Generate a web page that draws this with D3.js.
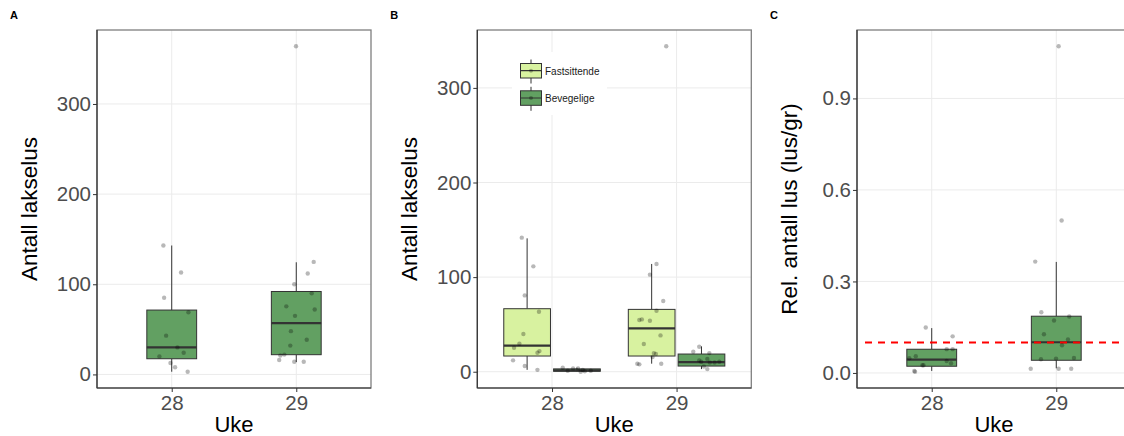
<!DOCTYPE html>
<html>
<head>
<meta charset="utf-8">
<script src="https://cdn.jsdelivr.net/npm/d3@7"></script>
<style>
  body { margin: 0; background: #fff; }
  svg { display: block; font-family: "Liberation Sans", Arial, sans-serif; }
</style>
</head>
<body>
<script>
const width = 1124, height = 436;
const weeks = ["28", "29"];

// Panel A: total sea lice per fish
const aBoxes = [
  {week: "28", lo: 3, q1: 17.4, med: 30, q3: 71.4, hi: 143},
  {week: "29", lo: 13.7, q1: 21.9, med: 57, q3: 92, hi: 124.4}
];
const aPoints = [
  {week: "28", v: 143, j: -0.067}, {week: "28", v: 113, j: 0.075}, {week: "28", v: 85, j: -0.061},
  {week: "28", v: 69, j: 0.134}, {week: "28", v: 43, j: -0.045}, {week: "28", v: 30, j: 0.046},
  {week: "28", v: 24, j: 0.096}, {week: "28", v: 20, j: -0.099}, {week: "28", v: 12.6, j: -0.01},
  {week: "28", v: 8, j: 0.027}, {week: "28", v: 3, j: 0.128},
  {week: "29", v: 364, j: -0.002}, {week: "29", v: 124.8, j: 0.14}, {week: "29", v: 112, j: 0.092},
  {week: "29", v: 100, j: -0.016}, {week: "29", v: 90, j: 0.124}, {week: "29", v: 75.5, j: -0.08},
  {week: "29", v: 72, j: 0.148}, {week: "29", v: 65, j: -0.01}, {week: "29", v: 48, j: -0.043},
  {week: "29", v: 38.5, j: 0.084}, {week: "29", v: 32, j: -0.048}, {week: "29", v: 22, j: -0.096},
  {week: "29", v: 21, j: -0.128}, {week: "29", v: 16, j: -0.137}, {week: "29", v: 14, j: -0.016},
  {week: "29", v: 14, j: 0.06}
];

// Panel B: split by stage
const stages = ["Fastsittende", "Bevegelige"];
const bBoxes = [
  {week: "28", stage: "Fastsittende", lo: 2, q1: 16.6, med: 27.5, q3: 66.6, hi: 141},
  {week: "28", stage: "Bevegelige", lo: 0, q1: 0.5, med: 1.5, q3: 3, hi: 4.2},
  {week: "29", stage: "Fastsittende", lo: 8.5, q1: 16.6, med: 45.8, q3: 65.9, hi: 113.9},
  {week: "29", stage: "Bevegelige", lo: 2.8, q1: 6, med: 10.2, q3: 18.7, hi: 26.8}
];
const bPoints = [
  {week: "28", stage: "Fastsittende", v: 141.7, j: -0.043}, {week: "28", stage: "Fastsittende", v: 111.4, j: 0.05},
  {week: "28", stage: "Fastsittende", v: 80.7, j: -0.019}, {week: "28", stage: "Fastsittende", v: 63.4, j: 0.095},
  {week: "28", stage: "Fastsittende", v: 39.8, j: -0.03}, {week: "28", stage: "Fastsittende", v: 29.6, j: -0.062},
  {week: "28", stage: "Fastsittende", v: 25.4, j: -0.105}, {week: "28", stage: "Fastsittende", v: 21.8, j: 0.099},
  {week: "28", stage: "Fastsittende", v: 20, j: 0.083}, {week: "28", stage: "Fastsittende", v: 12, j: -0.113},
  {week: "28", stage: "Fastsittende", v: 6, j: -0.019}, {week: "28", stage: "Fastsittende", v: 2, j: 0.083},
  {week: "28", stage: "Bevegelige", v: 4.2, j: -0.114}, {week: "28", stage: "Bevegelige", v: 3.5, j: -0.031},
  {week: "28", stage: "Bevegelige", v: 3.5, j: 0.009}, {week: "28", stage: "Bevegelige", v: 1.8, j: 0.047},
  {week: "28", stage: "Bevegelige", v: 0.5, j: 0.063}, {week: "28", stage: "Bevegelige", v: 1, j: 0.111},
  {week: "28", stage: "Bevegelige", v: 1, j: -0.074}, {week: "28", stage: "Bevegelige", v: 0, j: 0.03},
  {week: "29", stage: "Fastsittende", v: 344, j: 0.117}, {week: "29", stage: "Fastsittende", v: 113.9, j: 0.039},
  {week: "29", stage: "Fastsittende", v: 102.6, j: -0.014}, {week: "29", stage: "Fastsittende", v: 74.8, j: 0.093},
  {week: "29", stage: "Fastsittende", v: 64.5, j: 0.039}, {week: "29", stage: "Fastsittende", v: 54.6, j: -0.099},
  {week: "29", stage: "Fastsittende", v: 55.3, j: -0.079}, {week: "29", stage: "Fastsittende", v: 53.9, j: -0.014},
  {week: "29", stage: "Fastsittende", v: 38.4, j: 0.071}, {week: "29", stage: "Fastsittende", v: 29.3, j: -0.063},
  {week: "29", stage: "Fastsittende", v: 18.7, j: 0.034}, {week: "29", stage: "Fastsittende", v: 19.7, j: 0.018},
  {week: "29", stage: "Fastsittende", v: 15.5, j: 0.007}, {week: "29", stage: "Fastsittende", v: 8.5, j: -0.115},
  {week: "29", stage: "Fastsittende", v: 7.8, j: -0.099}, {week: "29", stage: "Fastsittende", v: 8.5, j: 0.077},
  {week: "29", stage: "Bevegelige", v: 26.4, j: -0.018}, {week: "29", stage: "Bevegelige", v: 21.1, j: -0.066},
  {week: "29", stage: "Bevegelige", v: 19.7, j: 0.063}, {week: "29", stage: "Bevegelige", v: 11.9, j: -0.018},
  {week: "29", stage: "Bevegelige", v: 13.4, j: 0.047}, {week: "29", stage: "Bevegelige", v: 9.8, j: 0.067},
  {week: "29", stage: "Bevegelige", v: 9.8, j: 0.105}, {week: "29", stage: "Bevegelige", v: 5.6, j: 0.019},
  {week: "29", stage: "Bevegelige", v: 2.8, j: 0.047}, {week: "29", stage: "Bevegelige", v: 10.6, j: 0.143},
  {week: "29", stage: "Bevegelige", v: 10.6, j: -0.002}
];

// Panel C: lice per gram
const cBoxes = [
  {week: "28", lo: 0.0066, q1: 0.022, med: 0.0437, q3: 0.0777, hi: 0.147},
  {week: "29", lo: 0.0153, q1: 0.0416, med: 0.1007, q3: 0.186, hi: 0.364}
];
const cPoints = [
  {week: "28", v: 0.149, j: -0.048}, {week: "28", v: 0.120, j: 0.168}, {week: "28", v: 0.078, j: 0.12},
  {week: "28", v: 0.078, j: 0.168}, {week: "28", v: 0.055, j: -0.128}, {week: "28", v: 0.048, j: -0.18},
  {week: "28", v: 0.039, j: 0.12}, {week: "28", v: 0.032, j: 0.155}, {week: "28", v: 0.025, j: -0.075},
  {week: "28", v: 0.025, j: -0.066}, {week: "28", v: 0.0066, j: -0.14}, {week: "28", v: 0.004, j: -0.134},
  {week: "29", v: 1.071, j: 0.019}, {week: "29", v: 0.50, j: 0.043}, {week: "29", v: 0.365, j: -0.169},
  {week: "29", v: 0.199, j: -0.12}, {week: "29", v: 0.172, j: -0.018}, {week: "29", v: 0.185, j: 0.104},
  {week: "29", v: 0.127, j: -0.099}, {week: "29", v: 0.11, j: 0.094}, {week: "29", v: 0.091, j: 0.046},
  {week: "29", v: 0.045, j: -0.123}, {week: "29", v: 0.047, j: -0.002}, {week: "29", v: 0.049, j: 0.142},
  {week: "29", v: 0.014, j: -0.205}, {week: "29", v: 0.014, j: 0.019}, {week: "29", v: 0.014, j: 0.12}
];
const cThreshold = 0.1;

const yTicksAB = [0, 100, 200, 300];
const yTicksC = [0, 0.3, 0.6, 0.9];

const fillColor = {"Fastsittende": "#d8f2a0", "Bevegelige": "#62a062"};

const svg = d3.select("body").append("svg")
  .attr("width", width)
  .attr("height", height);

function drawPanel(opt) {
  const top = 30, bottom = 388;
  const x = d3.scalePoint().domain(weeks).range([opt.left, opt.left + 274]).padding(0.6);
  const step = x.step();
  const vals = opt.points.map(d => d.v).concat(opt.boxes.map(d => d.hi), opt.boxes.map(d => d.lo));
  const [mn, mx] = d3.extent(vals);
  const pad = (mx - mn) * 0.05;
  const y = d3.scaleLinear().domain([mn - pad, mx + pad]).range([bottom, top]);

  const clipId = "clip" + opt.tag;
  svg.append("clipPath").attr("id", clipId)
    .append("rect").attr("x", opt.left).attr("y", top).attr("width", 274).attr("height", bottom - top);

  const g = svg.append("g");
  const inner = g.append("g").attr("clip-path", `url(#${clipId})`);

  // grid
  inner.selectAll("line.hg").data(opt.ticks).enter().append("line")
    .attr("x1", opt.left).attr("x2", opt.left + 274)
    .attr("y1", d => y(d)).attr("y2", d => y(d))
    .attr("stroke", "#ebebeb").attr("stroke-width", 1);
  inner.selectAll("line.vg").data(weeks).enter().append("line")
    .attr("x1", d => x(d)).attr("x2", d => x(d))
    .attr("y1", top).attr("y2", bottom)
    .attr("stroke", "#ebebeb").attr("stroke-width", 1);

  // legend background sits under the marks, like ggplot's inside legend
  if (opt.legend) opt.legend(inner, x, y);

  const offset = d => opt.dodge ? (d.stage === stages[0] ? -0.2 : 0.2) * step : 0;
  const bw = (opt.dodge ? 0.375 : 0.4) * step;

  const box = inner.selectAll("g.box").data(opt.boxes).enter().append("g");
  box.append("line")
    .attr("x1", d => x(d.week) + offset(d)).attr("x2", d => x(d.week) + offset(d))
    .attr("y1", d => y(d.hi)).attr("y2", d => y(d.q3))
    .attr("stroke", "#333").attr("stroke-width", 1);
  box.append("line")
    .attr("x1", d => x(d.week) + offset(d)).attr("x2", d => x(d.week) + offset(d))
    .attr("y1", d => y(d.lo)).attr("y2", d => y(d.q1))
    .attr("stroke", "#333").attr("stroke-width", 1);
  box.append("rect")
    .attr("x", d => x(d.week) + offset(d) - bw / 2)
    .attr("width", bw)
    .attr("y", d => y(d.q3))
    .attr("height", d => Math.max(1, y(d.q1) - y(d.q3)))
    .attr("fill", d => fillColor[d.stage || "Bevegelige"])
    .attr("stroke", "#333").attr("stroke-width", 1);
  box.append("line")
    .attr("x1", d => x(d.week) + offset(d) - bw / 2).attr("x2", d => x(d.week) + offset(d) + bw / 2)
    .attr("y1", d => y(d.med)).attr("y2", d => y(d.med))
    .attr("stroke", "#333").attr("stroke-width", 2.2);

  if (opt.hline !== undefined) {
    inner.append("line")
      .attr("x1", opt.left + 8).attr("x2", opt.left + 274)
      .attr("y1", y(opt.hline)).attr("y2", y(opt.hline))
      .attr("stroke", "#ff0000").attr("stroke-width", 2)
      .attr("stroke-dasharray", "7,6");
  }

  inner.selectAll("circle.pt").data(opt.points).enter().append("circle")
    .attr("cx", d => x(d.week) + offset(d) + d.j * step)
    .attr("cy", d => y(d.v))
    .attr("r", 2.2)
    .attr("fill", "#000").attr("fill-opacity", 0.28);

  // border
  g.append("rect")
    .attr("x", opt.left).attr("y", top).attr("width", 274).attr("height", bottom - top)
    .attr("fill", "none").attr("stroke", "#7f7f7f").attr("stroke-width", 1.3);
  g.append("line").attr("x1", opt.left).attr("x2", opt.left).attr("y1", top).attr("y2", bottom)
    .attr("stroke", "#333").attr("stroke-width", 1.2);
  g.append("line").attr("x1", opt.left).attr("x2", opt.left + 274).attr("y1", bottom).attr("y2", bottom)
    .attr("stroke", "#333").attr("stroke-width", 1.2);

  // axes
  const yAxis = d3.axisLeft(y).tickValues(opt.ticks).tickSize(4).tickPadding(2).tickFormat(opt.fmt);
  const ya = g.append("g").attr("transform", `translate(${opt.left},0)`).call(yAxis);
  const xAxis = d3.axisBottom(x).tickSize(4).tickPadding(3);
  const xa = g.append("g").attr("transform", `translate(0,${bottom})`).call(xAxis);
  [ya, xa].forEach(a => {
    a.select(".domain").remove();
    a.selectAll(".tick line").attr("stroke", "#333");
    a.selectAll(".tick text").attr("fill", "#4d4d4d").style("font-size", "20.5px")
      .style("font-family", "Liberation Sans, Arial, sans-serif");
  });

  g.append("text")
    .attr("x", opt.left + 137).attr("y", 432)
    .attr("text-anchor", "middle")
    .style("font-size", "22px")
    .text("Uke");
  g.append("text")
    .attr("transform", `translate(${opt.left - 68},209) rotate(-90)`)
    .attr("text-anchor", "middle")
    .attr("dy", "0.35em")
    .style("font-size", "22.5px")
    .text(opt.ylab);

  svg.append("text")
    .attr("x", opt.left - 87).attr("y", 19)
    .style("font-size", "11px").style("font-weight", "bold")
    .text(opt.tag);
}

function stageLegend(layer) {
  layer.append("rect")
    .attr("x", 512).attr("y", 52).attr("width", 95).attr("height", 63)
    .attr("fill", "#fff");
  const item = layer.selectAll("g.leg").data(stages).enter().append("g")
    .attr("transform", (d, i) => `translate(520.5,${63.5 + i * 27.3})`);
  item.append("line").attr("x1", 10.5).attr("x2", 10.5).attr("y1", -4).attr("y2", 20)
    .attr("stroke", "#333");
  item.append("rect").attr("width", 21).attr("height", 14.5)
    .attr("fill", d => fillColor[d]).attr("stroke", "#333");
  item.append("line").attr("x1", 0).attr("x2", 21).attr("y1", 7.2).attr("y2", 7.2)
    .attr("stroke", "#333").attr("stroke-width", 1.2);
  item.append("circle").attr("cx", 10.5).attr("cy", 7.2).attr("r", 2)
    .attr("fill", "#000").attr("fill-opacity", 0.28);
  item.append("text").attr("x", 24.5).attr("y", 7.5).attr("dy", "0.35em")
    .style("font-size", "10px").attr("fill", "#1a1a1a")
    .text(d => d);
}

drawPanel({tag: "A", left: 97, boxes: aBoxes, points: aPoints, ticks: yTicksAB,
  fmt: d3.format("d"), ylab: "Antall lakselus"});
drawPanel({tag: "B", left: 477.3, boxes: bBoxes, points: bPoints, ticks: yTicksAB, dodge: true,
  fmt: d3.format("d"), ylab: "Antall lakselus", legend: stageLegend});
drawPanel({tag: "C", left: 857, boxes: cBoxes, points: cPoints, ticks: yTicksC,
  fmt: d3.format(".1f"), ylab: "Rel. antall lus (lus/gr)", hline: cThreshold});
</script>
</body>
</html>
